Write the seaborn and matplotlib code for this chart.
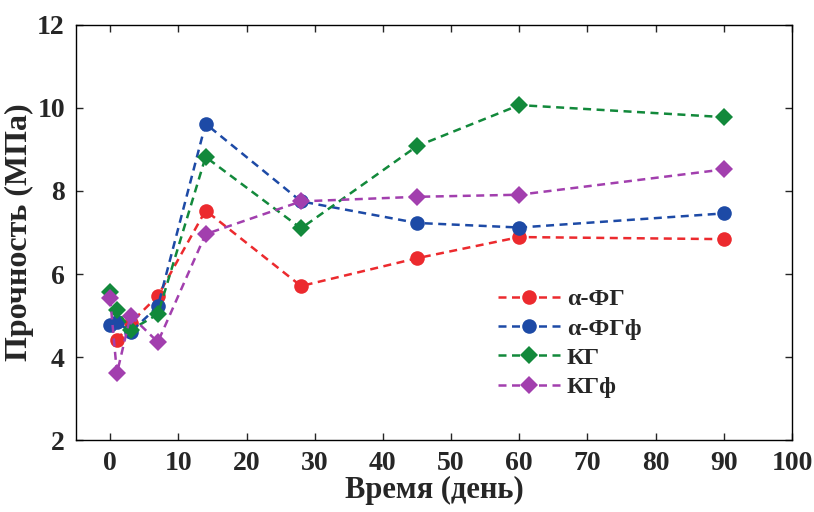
import numpy as np
import pandas as pd
import matplotlib
matplotlib.use("Agg")
import matplotlib.pyplot as plt
import seaborn as sns

# Data
days_afg = [1, 3, 7, 14, 28, 45, 60, 90]
afg = [4.41, 4.82, 5.47, 7.53, 5.71, 6.38, 6.89, 6.84]

days_afgf = [0, 1, 3, 7, 14, 28, 45, 60, 90]
afgf = [4.78, 4.85, 4.60, 5.22, 9.62, 7.75, 7.23, 7.12, 7.46]

days_kg = [0, 1, 3, 7, 14, 28, 45, 60, 90]
kg = [5.57, 5.13, 4.65, 5.03, 8.82, 7.10, 9.08, 10.07, 9.78]

days_kgf = [0, 1, 3, 7, 14, 28, 45, 60, 90]
kgf = [5.42, 3.61, 5.00, 4.36, 6.96, 7.75, 7.86, 7.91, 8.52]

labels = ["α-ФГ", "α-ФГф", "КГ", "КГф"]
colors = ["#ec2a2e", "#1d4aa6", "#12893b", "#a23fae"]
markers = ["o", "o", "D", "D"]

x_ticks = [0, 10, 20, 30, 40, 50, 60, 70, 80, 90, 100]
y_ticks = [2, 4, 6, 8, 10, 12]

frames = []
for lab, d, v in zip(labels, [days_afg, days_afgf, days_kg, days_kgf], [afg, afgf, kg, kgf]):
    frames.append(pd.DataFrame({"day": d, "val": v, "series": lab}))
df = pd.concat(frames, ignore_index=True)

sns.set_theme(style="ticks")
plt.rcParams["font.family"] = ["Liberation Serif", "DejaVu Serif"]
plt.rcParams["font.weight"] = "bold"

fig = plt.figure(figsize=(8.14, 5.12), dpi=100)
ax = fig.add_axes([0.0934, 0.1406, 0.8796, 0.8106])

for lab, col, mk in zip(labels, colors, markers):
    sub = df[df["series"] == lab]
    sns.lineplot(data=sub, x="day", y="val", ax=ax, color=col, marker=mk,
                 markersize=10.5 if mk == "o" else 9, markeredgewidth=0,
                 linestyle=(0, (3.2, 2.2)), linewidth=1.8, label=lab,
                 sort=False, estimator=None)

ax.set_xlim(-5, 100)
ax.set_ylim(2, 12)
ax.set_xticks(x_ticks)
ax.set_yticks(y_ticks)
ax.tick_params(direction="in", top=True, right=True, length=5, width=1,
               labelsize=20, pad=8)
for lbl in ax.get_xticklabels() + ax.get_yticklabels():
    lbl.set_fontweight("bold")
for s in ax.spines.values():
    s.set_linewidth(1.0)
    s.set_color("black")

ax.set_xlabel("Время (день)", fontsize=22, fontweight="bold", labelpad=0)
ax.set_ylabel("Прочность (МПа)", fontsize=23, fontweight="bold", labelpad=2)

leg = ax.legend(loc="upper left", bbox_to_anchor=(0.572, 0.395), frameon=False,
                fontsize=17.5, handlelength=2.6, handletextpad=0.25,
                labelspacing=0.3, borderpad=0.0)
for t in leg.get_texts():
    t.set_fontweight("bold")

fig.savefig("out.png", dpi=100)
